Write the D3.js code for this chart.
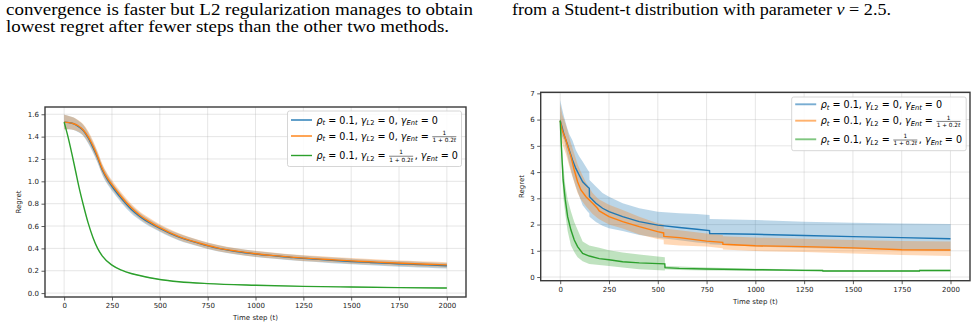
<!DOCTYPE html>
<html>
<head>
<meta charset="utf-8">
<script src="https://cdn.jsdelivr.net/npm/d3@7"></script>
<style>
body{margin:0;background:#fff}
svg{display:block;background:#fff}
text{font-family:"DejaVu Sans",sans-serif}
.serif{font-family:"Liberation Serif","Times New Roman",serif}
</style>
</head>
<body>
<svg id="fig" width="977" height="329"></svg>
<script>
// ---- left panel (smooth curves) ----
var tL = [0,25,50,75,100,125,150,175,200,225,250,300,350,400,450,500,600,700,800,900,1000,1100,1200,1300,1400,1500,1600,1700,1800,1900,2000];
var blueL   = [1.53,1.525,1.515,1.49,1.455,1.39,1.305,1.21,1.10,1.02,0.955,0.845,0.75,0.68,0.625,0.578,0.50,0.447,0.402,0.372,0.35,0.333,0.317,0.305,0.293,0.283,0.274,0.266,0.259,0.252,0.245];
var orangeL = [1.53,1.525,1.515,1.495,1.46,1.40,1.32,1.22,1.11,1.03,0.97,0.86,0.765,0.69,0.635,0.585,0.505,0.45,0.405,0.375,0.352,0.335,0.32,0.308,0.298,0.288,0.28,0.272,0.265,0.258,0.252];
var spreadL = [0.065,0.06,0.055,0.052,0.05,0.05,0.048,0.046,0.045,0.043,0.04,0.038,0.035,0.033,0.032,0.03,0.03,0.028,0.028,0.027,0.027,0.026,0.026,0.025,0.025,0.025,0.025,0.025,0.025,0.025,0.025];
var tGL = [0,20,40,60,80,100,125,150,175,200,250,300,350,400,500,600,750,1000,1250,1500,1750,2000];
var greenL = [1.53,1.40,1.25,1.09,0.93,0.79,0.63,0.50,0.40,0.33,0.25,0.205,0.175,0.155,0.122,0.102,0.085,0.07,0.06,0.054,0.049,0.045];

// ---- right panel (stepwise curves) ----
var tBR = [0,10,20,35,46,63,80,97,115,140,149,150,183,217,250,320,405,500,610,700,765,766,1000,1250,1500,1750,2000];
var blueR   = [5.96,5.7,5.41,5.1,4.84,4.46,4.14,3.89,3.63,3.44,3.38,3.06,2.81,2.62,2.49,2.30,2.11,1.98,1.89,1.82,1.77,1.66,1.63,1.58,1.54,1.50,1.46];
var blueRhi = [6.75,6.4,6.1,5.7,5.45,5.2,4.84,4.6,4.4,4.1,4.0,3.7,3.45,3.2,3.06,2.81,2.62,2.49,2.43,2.4,2.36,2.21,2.17,2.11,2.07,2.04,2.02];
var blueRlo = [5.5,5.35,5.22,4.7,4.33,3.85,3.44,3.1,2.74,2.5,2.43,2.3,2.1,1.95,1.86,1.75,1.6,1.5,1.4,1.32,1.28,1.25,1.16,1.11,1.07,1.03,1.0];

var tOR = [0,10,29,55,72,89,106,132,166,191,200,250,320,405,499,530,531,610,750,833,834,1000,1250,1500,1750,2000];
var orangeR   = [5.96,5.6,5.22,4.59,4.08,3.63,3.32,3.06,2.81,2.62,2.52,2.3,2.11,1.92,1.73,1.68,1.55,1.5,1.37,1.32,1.25,1.19,1.16,1.11,1.04,1.03];
var orangeRhi = [6.6,6.2,5.8,5.1,4.7,4.3,4.0,3.6,3.2,3.0,2.95,2.75,2.55,2.3,2.05,2.0,1.85,1.78,1.66,1.6,1.55,1.51,1.46,1.41,1.37,1.35];
var orangeRlo = [5.5,5.1,4.7,4.0,3.6,3.2,2.95,2.7,2.4,2.25,2.2,2.0,1.85,1.62,1.45,1.42,1.25,1.2,1.16,1.1,1.05,0.99,0.95,0.9,0.84,0.8];

var tGR = [0,4,8.5,15,26,38,55,72,89,115,149,200,250,320,405,536,537,610,750,1000,1250,1345,1346,1841,1842,2000];
var greenR   = [5.96,5.3,4.59,3.70,2.94,2.30,1.79,1.41,1.16,0.90,0.80,0.70,0.66,0.58,0.54,0.50,0.36,0.33,0.305,0.28,0.255,0.25,0.23,0.23,0.25,0.25];
var greenRhi = [6.3,5.7,5.0,4.3,3.5,2.95,2.5,2.1,1.8,1.35,1.2,1.12,1.02,0.93,0.86,0.75,0.42,0.4,0.36,0.32,0.29,0.28,0.26,0.26,0.28,0.28];
var greenRlo = [5.6,4.9,4.2,3.1,2.4,1.75,1.2,0.95,0.75,0.6,0.5,0.46,0.42,0.36,0.3,0.25,0.30,0.27,0.25,0.24,0.22,0.22,0.2,0.2,0.22,0.22];

var xTicks = [0,250,500,750,1000,1250,1500,1750,2000];
var yTicksL = [0,0.2,0.4,0.6,0.8,1.0,1.2,1.4,1.6];
var yTicksR = [0,1,2,3,4,5,6,7];

var colors = {blue:"#1f77b4", orange:"#ff7f0e", green:"#2ca02c"};

var svg = d3.select("#fig");

// ---- paper text above the figures ----
var txt = svg.append("g").attr("class","serif").attr("fill","#000").attr("font-size",16);
txt.append("text").attr("class","serif").attr("x",6).attr("y",15)
	.attr("textLength",467).attr("lengthAdjust","spacingAndGlyphs")
	.text("convergence is faster but L2 regularization manages to obtain");
txt.append("text").attr("class","serif").attr("x",6).attr("y",31.5)
	.attr("textLength",443).attr("lengthAdjust","spacingAndGlyphs")
	.text("lowest regret after fewer steps than the other two methods.");
var rt = txt.append("text").attr("class","serif").attr("x",512).attr("y",15)
	.attr("textLength",379).attr("lengthAdjust","spacingAndGlyphs");
rt.append("tspan").text("from a Student-t distribution with parameter ");
rt.append("tspan").attr("font-style","italic").text("ν");
rt.append("tspan").text(" = 2.5.");

// lays out a small matplotlib-like mathtext string, token by token
function mathText(g, tokens, x, y, fs){
	var cx = x;
	tokens.forEach(function(tk){
		if (tk.frac){
			var s = fs*0.6;
			var num = g.append("text").attr("font-size",s).attr("text-anchor","middle").text(tk.frac[0]);
			var den = g.append("text").attr("font-size",s).attr("text-anchor","middle").style("white-space","pre");
			den.append("tspan").text(tk.frac[1]);
			den.append("tspan").attr("font-style","italic").text(tk.frac[2]);
			var w = Math.max(num.node().getComputedTextLength(), den.node().getComputedTextLength()) + 1.5;
			num.attr("x",cx + w/2).attr("y",y - fs*0.5);
			den.attr("x",cx + w/2).attr("y",y + fs*0.25);
			g.append("line").attr("x1",cx+0.5).attr("x2",cx+w-0.5)
				.attr("y1",y - fs*0.3).attr("y2",y - fs*0.3)
				.attr("stroke","#000").attr("stroke-width",0.5);
			cx += w + 1;
		} else {
			var size = tk.sub ? fs*0.7 : fs;
			var t = g.append("text")
				.attr("x",cx).attr("y", tk.sub ? y + fs*0.18 : y)
				.attr("font-size",size)
				.attr("font-style", tk.it ? "italic" : null)
				.style("white-space","pre")
				.text(tk.s);
			cx += t.node().getComputedTextLength();
		}
	});
}

var rho = [{s:"ρ",it:1},{s:"t",sub:1,it:1},{s:" = 0.1, "}];
var gL2 = [{s:"γ",it:1},{s:"L",sub:1,it:1},{s:"2",sub:1}];
var gEnt = [{s:"γ",it:1},{s:"Ent",sub:1,it:1}];
var fr = {frac:["1","1 + 0.2","t"]};
var legendRows = [
	rho.concat(gL2,[{s:" = 0, "}],gEnt,[{s:" = 0"}]),
	rho.concat(gL2,[{s:" = 0, "}],gEnt,[{s:" = "},fr]),
	rho.concat(gL2,[{s:" = "},fr,{s:", "}],gEnt,[{s:" = 0"}])
];

function panel(o){
	var x = d3.scaleLinear().domain([-100,2100]).range([o.left,o.right]);
	var y = d3.scaleLinear().domain(o.yDomain).range([o.bottom,o.top]);
	var g = svg.append("g");

	// grid
	g.append("g").selectAll("line").data(xTicks).enter().append("line")
		.attr("x1",function(d){return x(d)}).attr("x2",function(d){return x(d)})
		.attr("y1",o.top).attr("y2",o.bottom)
		.attr("stroke","#b0b0b0").attr("stroke-opacity",0.4).attr("stroke-width",0.8);
	g.append("g").selectAll("line").data(o.yTicks).enter().append("line")
		.attr("y1",function(d){return y(d)}).attr("y2",function(d){return y(d)})
		.attr("x1",o.left).attr("x2",o.right)
		.attr("stroke","#b0b0b0").attr("stroke-opacity",0.4).attr("stroke-width",0.8);

	var plot = g.append("g");
	o.series.forEach(function(s){
		var pts = s.t.map(function(t,i){ return {t:t, m:s.mid[i], lo:s.lo[i], hi:s.hi[i]} });
		var area = d3.area().curve(o.curve)
			.x(function(d){return x(d.t)})
			.y0(function(d){return y(d.lo)})
			.y1(function(d){return y(d.hi)});
		plot.append("path").datum(pts).attr("d",area)
			.attr("fill",s.color).attr("fill-opacity",0.3);
		s.pts = pts;
	});
	o.series.forEach(function(s){
		var line = d3.line().curve(o.curve)
			.x(function(d){return x(d.t)})
			.y(function(d){return y(d.m)});
		plot.append("path").datum(s.pts).attr("d",line)
			.attr("fill","none").attr("stroke",s.color).attr("stroke-width",1.4);
	});

	// axes
	var xa = g.append("g").attr("transform","translate(0," + o.bottom + ")")
		.call(d3.axisBottom(x).tickValues(xTicks).tickFormat(d3.format("d")).tickSize(3.5).tickPadding(2.5));
	var ya = g.append("g").attr("transform","translate(" + o.left + ",0)")
		.call(d3.axisLeft(y).tickValues(o.yTicks).tickFormat(o.fmt).tickSize(3.5).tickPadding(2.5));
	[xa,ya].forEach(function(a){
		a.select(".domain").remove();
		a.selectAll("line").attr("stroke","#333").attr("stroke-width",0.8);
		a.selectAll("text").attr("font-size",7).attr("fill","#222").attr("font-family","DejaVu Sans");
	});
	g.append("rect").attr("x",o.left).attr("y",o.top)
		.attr("width",o.right-o.left).attr("height",o.bottom-o.top)
		.attr("fill","none").attr("stroke","#3a3a3a").attr("stroke-width",1.4);

	g.append("text").attr("x",(o.left+o.right)/2).attr("y",o.xlabY)
		.attr("text-anchor","middle").attr("font-size",7).attr("fill","#222")
		.text("Time step (t)");
	g.append("text").attr("transform","translate(" + o.ylabX + "," + (o.top+o.bottom)/2 + ") rotate(-90)")
		.attr("text-anchor","middle").attr("font-size",7).attr("fill","#222")
		.text("Regret");

	// legend
	var L = o.legend;
	var lg = g.append("g");
	lg.append("rect").attr("x",L.x).attr("y",L.y).attr("width",L.w).attr("height",L.h)
		.attr("rx",2).attr("fill","#fff").attr("fill-opacity",0.85)
		.attr("stroke","#ccc").attr("stroke-width",0.8);
	o.series.forEach(function(s,i){
		var ry = L.rows[i];
		lg.append("line").attr("x1",L.x+3.5).attr("x2",L.x+24.5).attr("y1",ry).attr("y2",ry)
			.attr("stroke",s.color).attr("stroke-width",L.hw).attr("stroke-opacity",L.ho);
		mathText(lg.append("g").attr("fill","#000"), legendRows[i], L.x+29, ry+3.6, L.fs);
	});
}

panel({
	left:45, right:466, top:107, bottom:297,
	yDomain:[-0.035,1.665], yTicks:yTicksL, fmt:d3.format(".1f"),
	curve:d3.curveMonotoneX,
	xlabY:320, ylabX:21,
	series:[
		{t:tL, mid:blueL, lo:blueL.map(function(v,i){return v-spreadL[i]}), hi:blueL.map(function(v,i){return v+spreadL[i]}), color:colors.blue},
		{t:tL, mid:orangeL, lo:orangeL.map(function(v,i){return v-spreadL[i]}), hi:orangeL.map(function(v,i){return v+spreadL[i]}), color:colors.orange},
		{t:tGL, mid:greenL, lo:greenL.map(function(v){return v-0.004}), hi:greenL.map(function(v){return v+0.004}), color:colors.green}
	],
	legend:{x:287.5, y:111, w:174, h:55.5, rows:[120,136,155.5], fs:9.6, hw:1.4, ho:1}
});

panel({
	left:540.7, right:970, top:92.3, bottom:280.7,
	yDomain:[-0.14,7.04], yTicks:yTicksR, fmt:d3.format("d"),
	curve:d3.curveLinear,
	xlabY:303.5, ylabX:524,
	series:[
		{t:tBR, mid:blueR, lo:blueRlo, hi:blueRhi, color:colors.blue},
		{t:tOR, mid:orangeR, lo:orangeRlo, hi:orangeRhi, color:colors.orange},
		{t:tGR, mid:greenR, lo:greenRlo, hi:greenRhi, color:colors.green}
	],
	legend:{x:791.7, y:97, w:174.5, h:53.7, rows:[104.3,120.7,139.3], fs:9.6, hw:1.9, ho:0.6}
});
</script>
</body>
</html>
